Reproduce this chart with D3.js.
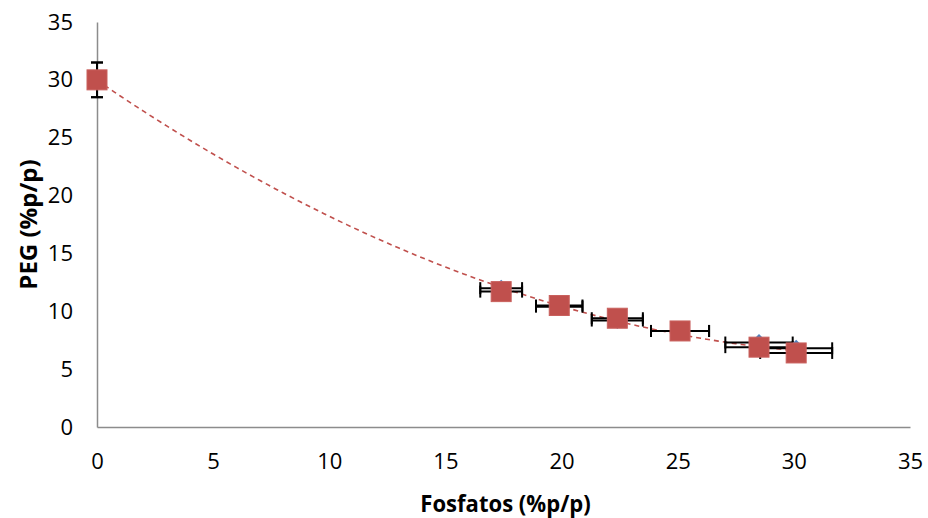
<!DOCTYPE html>
<html>
<head>
<meta charset="utf-8">
<script src="https://cdn.jsdelivr.net/npm/d3@7"></script>
<style>
  body { margin: 0; background: #fff; }
  text { font-family: "Open Sans", "Liberation Sans", sans-serif; fill: #000; }
</style>
</head>
<body>
<div id="chart"></div>
<script>
// fosfatos (x) / PEG (y), two replicate series
const fosfatos = [0, 17.4, 19.9, 22.4, 25.1, 28.5, 30.1]
const pegA = [30.0, 12.0, 10.4, 9.2, 8.3, 7.3, 6.8]
const pegB = [30.0, 11.7, 10.5, 9.4, 8.3, 6.9, 6.4]
const errX = [0, 0.9, 1.0, 1.1, 1.25, 1.45, 1.55]
const errY = [1.5, 0, 0, 0, 0, 0.25, 0.25]
const xTicks = [0, 5, 10, 15, 20, 25, 30, 35]
const yTicks = [0, 5, 10, 15, 20, 25, 30, 35]

const width = 928, height = 518
const padding = { top: 22, right: 18, bottom: 91, left: 97 }

const svg = d3.select("#chart").append("svg").attr("width", width).attr("height", height)

const xScale = d3.scaleLinear().domain([0, 35]).range([padding.left, width - padding.right])
const yScale = d3.scaleLinear().domain([0, 35]).range([height - padding.bottom, padding.top])

// axes
svg.append("g")
  .attr("transform", "translate(0," + yScale(0) + ")")
  .call(d3.axisBottom(xScale).tickValues(xTicks).tickSize(0).tickPadding(26))
  .call(g => g.select(".domain").attr("stroke", "#8c8c8c").attr("stroke-width", 1.5))
  .call(g => g.selectAll("text").attr("font-size", 22))

svg.append("g")
  .attr("transform", "translate(" + xScale(0) + ",0)")
  .call(d3.axisLeft(yScale).tickValues(yTicks).tickSize(0).tickPadding(24))
  .call(g => g.select(".domain").attr("stroke", "#8c8c8c").attr("stroke-width", 1.5))
  .call(g => g.selectAll("text").attr("font-size", 22))

// axis titles
svg.append("text")
  .attr("transform", "translate(" + (xScale(17.5) + 2) + ",512) scale(0.92,1)")
  .attr("text-anchor", "middle")
  .attr("font-size", 24).attr("font-weight", "bold")
  .text("Fosfatos (%p/p)")

svg.append("text")
  .attr("transform", "translate(37," + yScale(17.5) + ") rotate(-90)")
  .attr("text-anchor", "middle")
  .attr("font-size", 24).attr("font-weight", "bold")
  .text("PEG (%p/p)")

// quadratic least-squares trendline on series B
function polyfit2(xs, ys) {
  let s = [0, 0, 0, 0, 0], t = [0, 0, 0]
  for (let i = 0; i < xs.length; i++) {
    let p = 1
    for (let k = 0; k < 5; k++) { s[k] += p; if (k < 3) t[k] += p * ys[i]; p *= xs[i] }
  }
  const m = [[s[0], s[1], s[2], t[0]], [s[1], s[2], s[3], t[1]], [s[2], s[3], s[4], t[2]]]
  for (let c = 0; c < 3; c++) {
    for (let r = c + 1; r < 3; r++) {
      const f = m[r][c] / m[c][c]
      for (let k = c; k < 4; k++) m[r][k] -= f * m[c][k]
    }
  }
  const b = [0, 0, 0]
  for (let r = 2; r >= 0; r--) {
    let v = m[r][3]
    for (let k = r + 1; k < 3; k++) v -= m[r][k] * b[k]
    b[r] = v / m[r][r]
  }
  return b
}
const coef = polyfit2(fosfatos, pegB)
const trendX = d3.range(0, 30.1 + 0.001, 0.25)
const trendLine = d3.line()
  .x(d => xScale(d))
  .y(d => yScale(coef[0] + coef[1] * d + coef[2] * d * d))
svg.append("path")
  .datum(trendX)
  .attr("fill", "none")
  .attr("stroke", "#C0504D")
  .attr("stroke-width", 1.6)
  .attr("stroke-dasharray", "5,4")
  .attr("d", trendLine)

// error bars for both series
function errorBars(ys) {
  const g = svg.append("g").attr("stroke", "#000").attr("stroke-width", 2)
  fosfatos.forEach(function(x, i) {
    const cx = xScale(x), cy = yScale(ys[i])
    if (errX[i] > 0) {
      g.append("line").attr("x1", xScale(x - errX[i])).attr("x2", xScale(x + errX[i])).attr("y1", cy).attr("y2", cy)
      g.append("line").attr("x1", xScale(x - errX[i])).attr("x2", xScale(x - errX[i])).attr("y1", cy - 6).attr("y2", cy + 6)
      g.append("line").attr("x1", xScale(x + errX[i])).attr("x2", xScale(x + errX[i])).attr("y1", cy - 6).attr("y2", cy + 6)
    }
    if (errY[i] > 0) {
      g.append("line").attr("x1", cx).attr("x2", cx).attr("y1", yScale(ys[i] - errY[i])).attr("y2", yScale(ys[i] + errY[i]))
      g.append("line").attr("x1", cx - 6).attr("x2", cx + 6).attr("y1", yScale(ys[i] - errY[i])).attr("y2", yScale(ys[i] - errY[i]))
      g.append("line").attr("x1", cx - 6).attr("x2", cx + 6).attr("y1", yScale(ys[i] + errY[i])).attr("y2", yScale(ys[i] + errY[i]))
    }
  })
}
errorBars(pegA)
errorBars(pegB)

// series A diamonds
svg.append("g").selectAll("path")
  .data(fosfatos)
  .enter()
  .append("path")
  .attr("transform", (d, i) => "translate(" + xScale(d) + "," + yScale(pegA[i]) + ") rotate(45)")
  .attr("d", "M-6,-6h12v12h-12z")
  .attr("fill", "#4F81BD")

// series B squares
svg.append("g").selectAll("rect")
  .data(fosfatos)
  .enter()
  .append("rect")
  .attr("x", d => xScale(d) - 10)
  .attr("y", (d, i) => yScale(pegB[i]) - 10)
  .attr("width", 20).attr("height", 20)
  .attr("fill", "#C0504D")
  .attr("stroke", "#C9605D").attr("stroke-width", 1)
</script>
</body>
</html>
